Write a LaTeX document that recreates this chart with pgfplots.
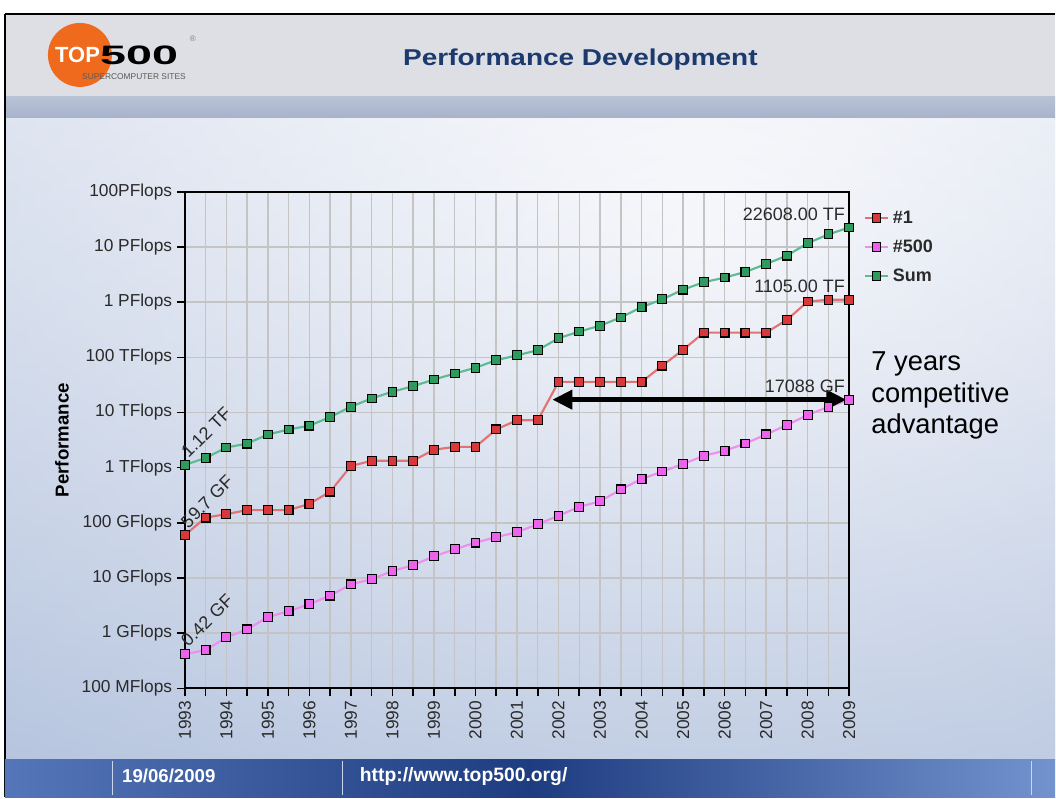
\documentclass[border=0pt]{standalone}
\usepackage{pgfplots}
\pgfplotsset{compat=1.18}
\usepackage{fontspec}
\setmainfont{Liberation Sans}
\usetikzlibrary{arrows.meta}
\definecolor{bgTop}{HTML}{FBFBFD}
\definecolor{bgBot}{HTML}{B0C0DC}
\definecolor{hdrGray}{HTML}{DDDFE5}
\definecolor{hdrBand}{HTML}{A7B3CB}
\definecolor{titleBlue}{HTML}{1C3A6E}
\definecolor{ftA}{HTML}{5576B8}
\definecolor{ftB}{HTML}{1E3C80}
\definecolor{ftC}{HTML}{7393CF}
\definecolor{logoOrange}{HTML}{F06A1E}
\definecolor{gridGray}{HTML}{C4C4C4}
\definecolor{txtGray}{HTML}{2A2A2A}
\definecolor{lineOne}{HTML}{E07474}
\definecolor{markOne}{HTML}{D8383A}
\definecolor{lineFive}{HTML}{EE8EEE}
\definecolor{markFive}{HTML}{EC62EA}
\definecolor{lineSum}{HTML}{5CBB92}
\definecolor{markSum}{HTML}{2E9A5E}

\pgfplotstableread{
x y
1993.0 59.7
1993.5 124.5
1994.0 143.4
1994.5 170.4
1995.0 170.4
1995.5 170.4
1996.0 220.4
1996.5 368.2
1997.0 1068
1997.5 1338
1998.0 1338
1998.5 1338
1999.0 2121
1999.5 2379
2000.0 2379
2000.5 4938
2001.0 7226
2001.5 7226
2002.0 35860
2002.5 35860
2003.0 35860
2003.5 35860
2004.0 35860
2004.5 70720
2005.0 136800
2005.5 280600
2006.0 280600
2006.5 280600
2007.0 280600
2007.5 478200
2008.0 1026000
2008.5 1105000
2009.0 1105000
}\first

\pgfplotstableread{
x y
1993.0 0.42
1993.5 0.49
1994.0 0.84
1994.5 1.17
1995.0 1.96
1995.5 2.5
1996.0 3.35
1996.5 4.8
1997.0 7.67
1997.5 9.5
1998.0 13.4
1998.5 17.1
1999.0 24.7
1999.5 33.1
2000.0 43.8
2000.5 55.1
2001.0 67.8
2001.5 94.3
2002.0 134.3
2002.5 195.8
2003.0 245.1
2003.5 403.4
2004.0 624
2004.5 850.6
2005.0 1166
2005.5 1646
2006.0 2026
2006.5 2737
2007.0 4005
2007.5 5929
2008.0 9000
2008.5 12640
2009.0 17088
}\last

\pgfplotstableread{
x y
1993.0 1128
1993.5 1493
1994.0 2317
1994.5 2732
1995.0 3993
1995.5 4922
1996.0 5781
1996.5 8259
1997.0 12760
1997.5 17980
1998.0 23880
1998.5 29950
1999.0 39660
1999.5 50790
2000.0 64740
2000.5 88830
2001.0 108600
2001.5 134700
2002.0 222200
2002.5 293100
2003.0 374800
2003.5 528300
2004.0 812300
2004.5 1127000
2005.0 1690000
2005.5 2300000
2006.0 2790000
2006.5 3530000
2007.0 4920000
2007.5 6970000
2008.0 11700000
2008.5 16950000
2009.0 22608000
}\total

\begin{document}
\begin{tikzpicture}[x=0.75pt,y=0.75pt]
% ---------- slide background ----------
\fill[white] (0,0) rectangle (1056,798);
\begin{scope}
\clip (5,38) rectangle (1056,680);
\shade[top color=bgTop, bottom color=bgBot] (5,38) rectangle (1056,680);
\shade[inner color=bgTop, outer color=bgBot, opacity=0.6] (700,560) ellipse[x radius=1100, y radius=900];
\end{scope}
% header
\fill[hdrGray] (5,701) rectangle (1056,784);
\shade[top color=hdrBand!80!white, bottom color=hdrBand] (5,680) rectangle (1056,701);
\draw[black, line width=1.5pt] (5,784) -- (1056,784);
\draw[black, line width=1.5pt] (5,0) -- (5,784);
% logo
\fill[logoOrange] (80,743) circle[radius=32];
\node[anchor=west, text=white, inner sep=0pt, font=\bfseries\fontsize{16.5}{16}\selectfont] at (55,743) {TOP};
\node[anchor=west, text=black, inner sep=0pt, font=\bfseries\fontsize{20}{20}\selectfont] at (100,743) {\scalebox{1.75}[1]{500}};
\node[anchor=west, text=gray!70!black, inner sep=0pt, font=\fontsize{6.3}{6}\selectfont] at (82,721) {SUPERCOMPUTER SITES};
\node[text=gray, inner sep=0pt, font=\fontsize{6}{6}\selectfont] at (193,759) {\textregistered};
% title
\node[text=titleBlue, inner sep=0pt, font=\bfseries\fontsize{21}{21}\selectfont] at (581,738) {\scalebox{1}[0.82]{Performance Development}};
% footer
\shade[left color=ftA, right color=ftC, middle color=ftB] (5,0) rectangle (1056,38);
\draw[white!70!ftA, line width=0.8pt] (113,2) -- (113,36);
\draw[white!70!ftA, line width=0.8pt] (343,2) -- (343,36);
\draw[white!70!ftA, line width=0.8pt] (1032,2) -- (1032,36);
\node[anchor=west, text=white, inner sep=0pt, font=\bfseries\fontsize{14}{14}\selectfont] at (122,21) {19/06/2009};
\node[anchor=west, text=white, inner sep=0pt, font=\bfseries\fontsize{14.5}{14}\selectfont] at (360,21) {http://www.top500.org/};
% side text
\node[anchor=north west, align=left, inner sep=0pt, text=black, font=\fontsize{20.5}{23.6}\selectfont] at (872,446) {7 years\\competitive\\advantage};

\begin{axis}[
  at={(138.75pt,81.75pt)}, anchor=south west,
  scale only axis, width=498.75pt, height=372.75pt,
  ymode=log, ymin=0.1, ymax=1e8,
  xmin=1993, xmax=2009,
  clip=false,
  axis line style={black, line width=1.3pt},
  tick style={black, line width=1.2pt},
  major tick length=6pt, minor tick length=6pt,
  tick align=outside,
  xtick pos=bottom, ytick pos=left,
  yminorticks=false,
  xtick={1993,1994,...,2009},
  xticklabels={1993,1994,1995,1996,1997,1998,1999,2000,2001,2002,2003,2004,2005,2006,2007,2008,2009},
  minor xtick={1993.5,1994.5,...,2008.5},
  ytick={0.1,1,10,100,1000,10000,100000,1000000,10000000,100000000},
  yticklabels={100 MFlops,1 GFlops,10 GFlops,100 GFlops,1 TFlops,10 TFlops,100 TFlops,1 PFlops,10 PFlops,100PFlops},
  xmajorgrids, xminorgrids, ymajorgrids,
  major grid style={gridGray, line width=1.1pt},
  minor grid style={gridGray, line width=1.1pt},
  ticklabel style={text=txtGray, font=\fontsize{13}{13}\selectfont},
  x tick label style={rotate=90, anchor=east},
  /pgf/number format/assume math mode=true,
  ylabel={Performance},
  every axis y label/.style={at={(axis description cs:-0.185,0.5)}, rotate=90, anchor=center,
     font=\bfseries\fontsize{14}{14}\selectfont, text=black},
  legend style={at={(1.022,0.968)}, anchor=north west, draw=none, fill=none,
    font=\bfseries\fontsize{13.5}{14}\selectfont, text=txtGray, row sep=7pt, inner xsep=0pt, inner ysep=0pt,
    nodes={inner xsep=3pt}},
  legend cell align=left,
]
\addplot[color=lineOne, line width=1.6pt, mark=square*, mark size=3.3pt,
  mark options={fill=markOne, draw=black, line width=0.8pt, solid}] table {\first};
\addlegendentry{\#1}
\addplot[color=lineFive, line width=1.6pt, mark=square*, mark size=3.3pt,
  mark options={fill=markFive, draw=black, line width=0.8pt, solid}] table {\last};
\addlegendentry{\#500}
\addplot[color=lineSum, line width=1.6pt, mark=square*, mark size=3.3pt,
  mark options={fill=markSum, draw=black, line width=0.8pt, solid}] table {\total};
\addlegendentry{Sum}

\draw[black, line width=3.6pt, {Triangle[length=15pt,width=14pt]}-{Triangle[length=15pt,width=14pt]}]
  (axis cs:2001.85,17088) -- (axis cs:2008.93,17088);

\node[anchor=south east, inner sep=0pt, text=txtGray, font=\fontsize{13.5}{14}\selectfont, xshift=-3pt, yshift=5pt] at (axis cs:2009,22608000) {22608.00 TF};
\node[anchor=south east, inner sep=0pt, text=txtGray, font=\fontsize{13.5}{14}\selectfont, xshift=-3pt, yshift=5pt] at (axis cs:2009,1105000) {1105.00 TF};
\node[anchor=south east, inner sep=0pt, text=txtGray, font=\fontsize{13.5}{14}\selectfont, xshift=-3pt, yshift=5pt] at (axis cs:2009,17088) {17088 GF};
\node[anchor=south west, rotate=45, inner sep=0pt, text=txtGray, font=\fontsize{13.5}{14}\selectfont, xshift=5pt, yshift=1pt] at (axis cs:1993,1128) {1.12 TF};
\node[anchor=south west, rotate=45, inner sep=0pt, text=txtGray, font=\fontsize{13.5}{14}\selectfont, xshift=5pt, yshift=1pt] at (axis cs:1993,59.7) {59.7 GF};
\node[anchor=south west, rotate=45, inner sep=0pt, text=txtGray, font=\fontsize{13.5}{14}\selectfont, xshift=5pt, yshift=1pt] at (axis cs:1993,0.42) {0.42 GF};
\end{axis}
\end{tikzpicture}
\end{document}
